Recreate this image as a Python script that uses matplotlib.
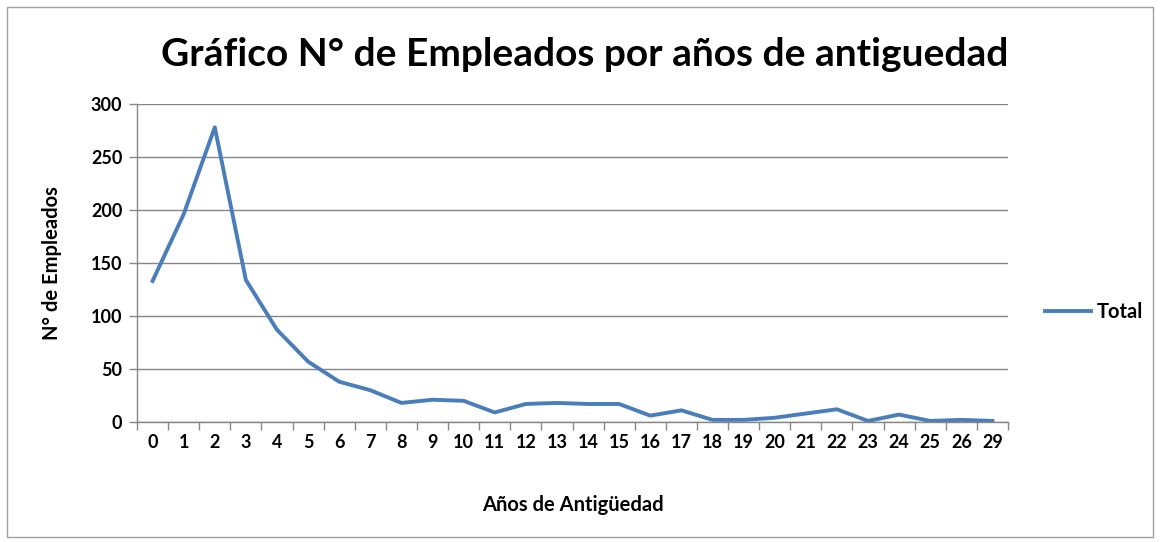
import matplotlib
matplotlib.use("Agg")
import matplotlib.pyplot as plt
from matplotlib.patches import Rectangle

# años de antigüedad y número de empleados
years = ["0", "1", "2", "3", "4", "5", "6", "7", "8", "9", "10", "11", "12", "13",
         "14", "15", "16", "17", "18", "19", "20", "21", "22", "23", "24", "25", "26", "29"]
employees = [133, 196, 278, 134, 87, 57, 38, 30, 18, 21, 20, 9, 17, 18,
             17, 17, 6, 11, 2, 2, 4, 8, 12, 1, 7, 1, 2, 1]
y_ticks = [0, 50, 100, 150, 200, 250, 300]

plt.rcParams["font.family"] = ["Lato", "DejaVu Sans"]

W, H = 1161, 542
fig = plt.figure(figsize=(W / 100, H / 100), dpi=100)
ax = fig.add_axes([137 / W, 1 - 422 / H, (1008 - 137) / W, (422 - 104) / H])

xs = list(range(len(years)))
ax.plot(xs, employees, color="#4A7EBB", lw=2.8, solid_joinstyle="round", label="Total")

ax.set_xlim(-0.5, len(years) - 0.5)
ax.set_ylim(0, 300)
ax.set_yticks(y_ticks)
ax.set_xticks(xs)
ax.set_xticklabels(years)
ax.set_xticks([i - 0.5 for i in range(len(years) + 1)], minor=True)
ax.tick_params(axis="x", which="major", length=0, pad=9, labelsize=13)
ax.tick_params(axis="x", which="minor", length=6, color="#868686", width=1)
ax.tick_params(axis="y", length=6, color="#868686", width=1, pad=4.5, labelsize=13)
for lab in ax.get_xticklabels() + ax.get_yticklabels():
    lab.set_fontweight("bold")

ax.grid(axis="y", color="#868686", lw=1)
ax.set_axisbelow(True)
for side in ("top", "right"):
    ax.spines[side].set_visible(False)
for side in ("left", "bottom"):
    ax.spines[side].set_color("#868686")
    ax.spines[side].set_linewidth(1)

ax.set_xlabel("Años de Antigüedad", fontsize=14.5, fontweight="bold", labelpad=31)
ax.set_ylabel("N° de Empleados", fontsize=14.5, fontweight="bold", labelpad=21)

fig.text(585 / W, 1 - 54 / H, "Gráfico N° de Empleados por años de antiguedad",
         ha="center", va="center", fontsize=28, fontweight="bold")

ax.legend(loc="center left", bbox_to_anchor=(1027 / W, 1 - 312 / H),
          bbox_transform=fig.transFigure, frameon=False, handlelength=2.3,
          handletextpad=0.25, prop={"weight": "bold", "size": 14.5})

fig.patches.append(Rectangle((7 / W, 5 / H), 1146 / W, 530 / H, transform=fig.transFigure,
                             fill=False, edgecolor="#a0a0a0", lw=1))

fig.savefig("out.png", dpi=100)
